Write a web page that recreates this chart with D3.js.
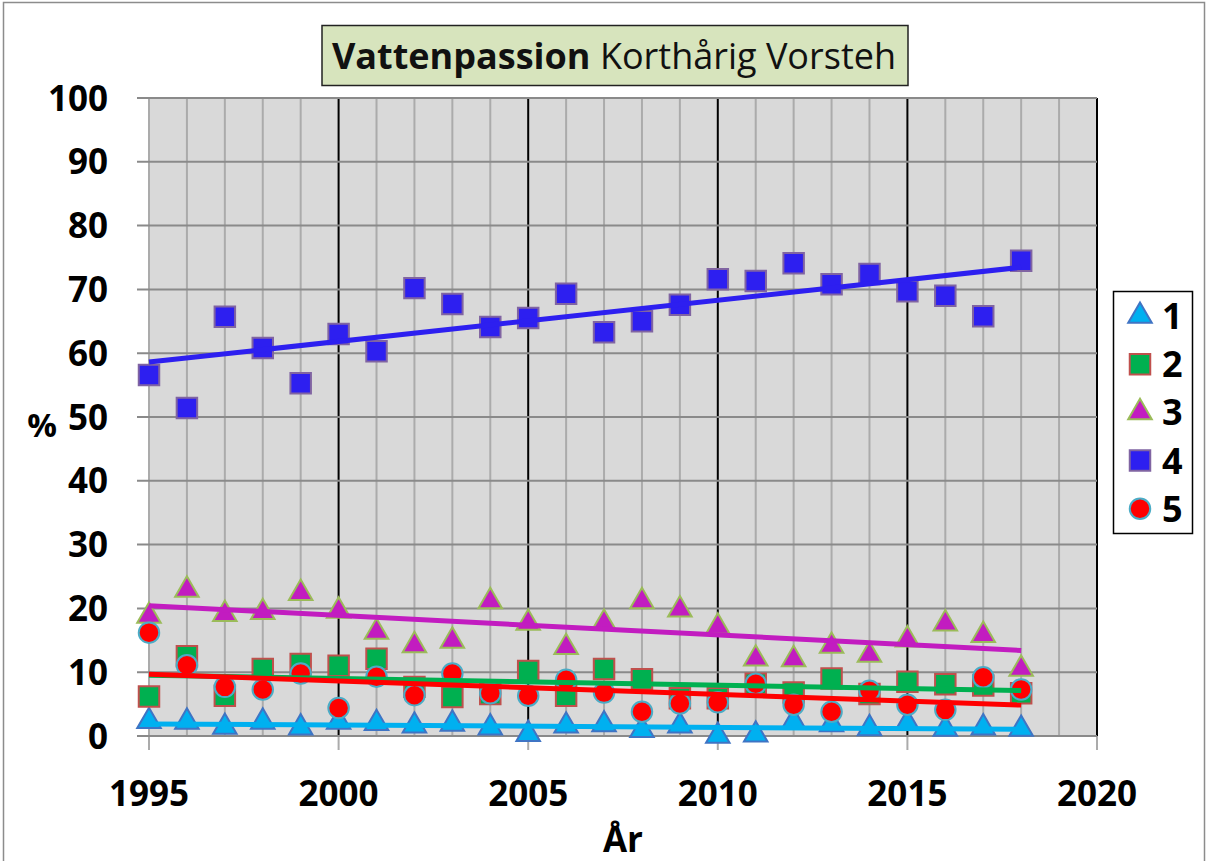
<!DOCTYPE html>
<html>
<head>
<meta charset="utf-8">
<script src="https://cdn.jsdelivr.net/npm/d3@7"></script>
<style>
  body { margin: 0; background: #fff; }
  text { font-family: "Open Sans", "Liberation Sans", sans-serif; }
</style>
</head>
<body>
<div id="chart"></div>
<script>
// år
var years = [1995, 1996, 1997, 1998, 1999, 2000, 2001, 2002, 2003, 2004, 2005, 2006,
             2007, 2008, 2009, 2010, 2011, 2012, 2013, 2014, 2015, 2016, 2017, 2018];

// andel (%) per klass
var s1 = [2.3, 2.2, 1.4, 2.2, 1.3, 2.2, 2.0, 1.6, 1.9, 1.3, 0.3, 1.6,
          1.8, 0.9, 1.6, 0.0, 0.2, 2.2, 1.8, 1.2, 2.0, 1.1, 1.3, 1.1];
var s2 = [6.2, 12.5, 6.3, 10.5, 11.3, 11.0, 12.1, 7.7, 6.1, 6.6, 10.2, 6.3,
          10.5, 8.9, 5.9, 5.9, 8.2, 6.8, 9.0, 6.6, 8.5, 8.1, 7.9, 6.7];
var s3 = [18.8, 22.9, 19.1, 19.4, 22.4, 19.6, 16.3, 14.2, 14.9, 21.1, 17.7, 13.9,
          17.7, 21.1, 19.8, 17.1, 12.1, 12.0, 14.1, 12.7, 15.1, 17.6, 15.8, 10.5];
var s4 = [56.6, 51.4, 65.7, 60.8, 55.3, 63.0, 60.3, 70.2, 67.7, 64.1, 65.5, 69.3,
          63.3, 65.0, 67.6, 71.6, 71.3, 74.1, 70.8, 72.4, 69.7, 69.0, 65.8, 74.5];
var s5 = [16.2, 11.1, 7.7, 7.3, 9.8, 4.4, 9.3, 6.4, 9.8, 6.7, 6.3, 8.8,
          6.8, 3.8, 5.1, 5.3, 8.2, 4.9, 3.8, 7.1, 4.9, 4.1, 9.2, 7.3];

var seriesNames = ["1", "2", "3", "4", "5"];
var xTicks = [1995, 2000, 2005, 2010, 2015, 2020];
var yTicks = [0, 10, 20, 30, 40, 50, 60, 70, 80, 90, 100];

var width = 1208, height = 861;

var series = [
    { name: seriesNames[0], values: s1, shape: d3.symbolTriangle, fill: "#00b0f0", stroke: "#3f74c4", line: "#00b0f0" },
    { name: seriesNames[1], values: s2, shape: d3.symbolSquare, fill: "#00b050", stroke: "#c0504d", line: "#00b050" },
    { name: seriesNames[2], values: s3, shape: d3.symbolTriangle, fill: "#c21cc0", stroke: "#9bbb59", line: "#c21cc0" },
    { name: seriesNames[3], values: s4, shape: d3.symbolSquare, fill: "#2d1ff0", stroke: "#8064a2", line: "#2d1ff0" },
    { name: seriesNames[4], values: s5, shape: d3.symbolCircle, fill: "#ff0000", stroke: "#4bacc6", line: "#ff0000" }
];

var x = d3.scaleLinear().domain([1995, 2020]).range([149, 1097]);
var y = d3.scaleLinear().domain([0, 100]).range([736, 98]);

var svg = d3.select("#chart").append("svg")
    .attr("width", width)
    .attr("height", height);

svg.append("rect")
    .attr("x", 3.5).attr("y", 2.5)
    .attr("width", 1201).attr("height", 880)
    .attr("fill", "#fff")
    .attr("stroke", "#8c8c8c")
    .attr("stroke-width", 1.5);

// plot area
svg.append("rect")
    .attr("x", x(1995)).attr("y", y(100))
    .attr("width", x(2020) - x(1995)).attr("height", y(0) - y(100))
    .attr("fill", "#d9d9d9");

// vertical grid, every year (minor) and every 5 years (major)
var allYears = d3.range(1995, 2021);
svg.append("g")
    .selectAll("line")
    .data(allYears.filter(d => d % 5 != 0 || d == 1995))
    .join("line")
    .attr("x1", d => x(d)).attr("x2", d => x(d))
    .attr("y1", y(100)).attr("y2", d => d == 1995 ? y(0) + 14 : y(0))
    .attr("stroke", "#ababab")
    .attr("stroke-width", 2);

svg.append("g")
    .selectAll("line")
    .data(xTicks.filter(d => d != 1995))
    .join("line")
    .attr("x1", d => x(d)).attr("x2", d => x(d))
    .attr("y1", y(100)).attr("y2", y(0))
    .attr("stroke", "#000")
    .attr("stroke-width", 2);

// tick marks below the plot
svg.append("g")
    .selectAll("line")
    .data(xTicks.filter(d => d != 1995))
    .join("line")
    .attr("x1", d => x(d)).attr("x2", d => x(d))
    .attr("y1", y(0)).attr("y2", y(0) + 14)
    .attr("stroke", "#ababab")
    .attr("stroke-width", 2);

// horizontal grid
svg.append("g")
    .selectAll("line")
    .data(yTicks)
    .join("line")
    .attr("x1", x(1995) - 12).attr("x2", x(2020))
    .attr("y1", d => y(d)).attr("y2", d => y(d))
    .attr("stroke", "#8a8a8a")
    .attr("stroke-width", 2);

// axis labels
svg.append("g")
    .selectAll("text")
    .data(yTicks)
    .join("text")
    .attr("x", 108)
    .attr("y", d => y(d))
    .attr("dy", "0.36em")
    .attr("text-anchor", "end")
    .attr("font-size", 35)
    .attr("font-weight", "bold")
    .text(d => d);

svg.append("g")
    .selectAll("text")
    .data(xTicks)
    .join("text")
    .attr("x", d => x(d))
    .attr("y", 806)
    .attr("text-anchor", "middle")
    .attr("font-size", 35)
    .attr("font-weight", "bold")
    .text(d => d);

svg.append("text")
    .attr("x", 623).attr("y", 852)
    .attr("text-anchor", "middle")
    .attr("font-size", 35)
    .attr("font-weight", "bold")
    .text("År");

svg.append("text")
    .attr("x", 42).attr("y", 437)
    .attr("text-anchor", "middle")
    .attr("font-size", 33)
    .attr("font-weight", "bold")
    .text("%");

// linear trend (least squares)
function trend(vals) {
    var n = years.length;
    var mx = d3.mean(years), my = d3.mean(vals);
    var sxy = 0, sxx = 0;
    years.forEach(function (yr, i) {
        sxy += (yr - mx) * (vals[i] - my);
        sxx += (yr - mx) * (yr - mx);
    });
    var b = sxy / sxx;
    var a = my - b * mx;
    return [years[0], years[n - 1]].map(yr => [yr, a + b * yr]);
}

var markerSize = function (s) {
    if (s.shape == d3.symbolTriangle) return 240;
    if (s.shape == d3.symbolSquare) return 420;
    return 330;
};

series.forEach(function (s) {
    svg.append("g")
        .selectAll("path")
        .data(s.values)
        .join("path")
        .attr("transform", (d, i) => "translate(" + x(years[i]) + "," + y(d) + ")")
        .attr("d", d3.symbol().type(s.shape).size(markerSize(s)))
        .attr("fill", s.fill)
        .attr("stroke", s.stroke)
        .attr("stroke-width", 2);
});

var line = d3.line().x(d => x(d[0])).y(d => y(d[1]));

series.forEach(function (s) {
    svg.append("path")
        .datum(trend(s.values))
        .attr("d", line)
        .attr("fill", "none")
        .attr("stroke", s.line)
        .attr("stroke-width", 5);
});

// title box
var title = svg.append("g");
title.append("rect")
    .attr("x", 322).attr("y", 25.5)
    .attr("width", 586).attr("height", 60)
    .attr("fill", "#d7e4bd")
    .attr("stroke", "#222")
    .attr("stroke-width", 1.5);
var tt = title.append("text")
    .attr("x", 614).attr("y", 69)
    .attr("text-anchor", "middle")
    .attr("font-size", 36)
    .attr("fill", "#111");
tt.append("tspan").attr("font-weight", "bold").text("Vattenpassion");
tt.append("tspan").text(" Korthårig Vorsteh");

// legend
var legend = svg.append("g");
legend.append("rect")
    .attr("x", 1113.5).attr("y", 291.5)
    .attr("width", 79).attr("height", 242)
    .attr("fill", "#fff")
    .attr("stroke", "#000")
    .attr("stroke-width", 1.5);

var item = legend.selectAll("g.item")
    .data(series)
    .join("g")
    .attr("class", "item")
    .attr("transform", (d, i) => "translate(0," + (316 + i * 48.2) + ")");

item.append("path")
    .attr("transform", "translate(1140,0)")
    .attr("d", d => d3.symbol().type(d.shape).size(markerSize(d))())
    .attr("fill", d => d.fill)
    .attr("stroke", d => d.stroke)
    .attr("stroke-width", 2);

item.append("text")
    .attr("x", 1162)
    .attr("dy", "0.36em")
    .attr("font-size", 36)
    .attr("font-weight", "bold")
    .text(d => d.name);
</script>
</body>
</html>
